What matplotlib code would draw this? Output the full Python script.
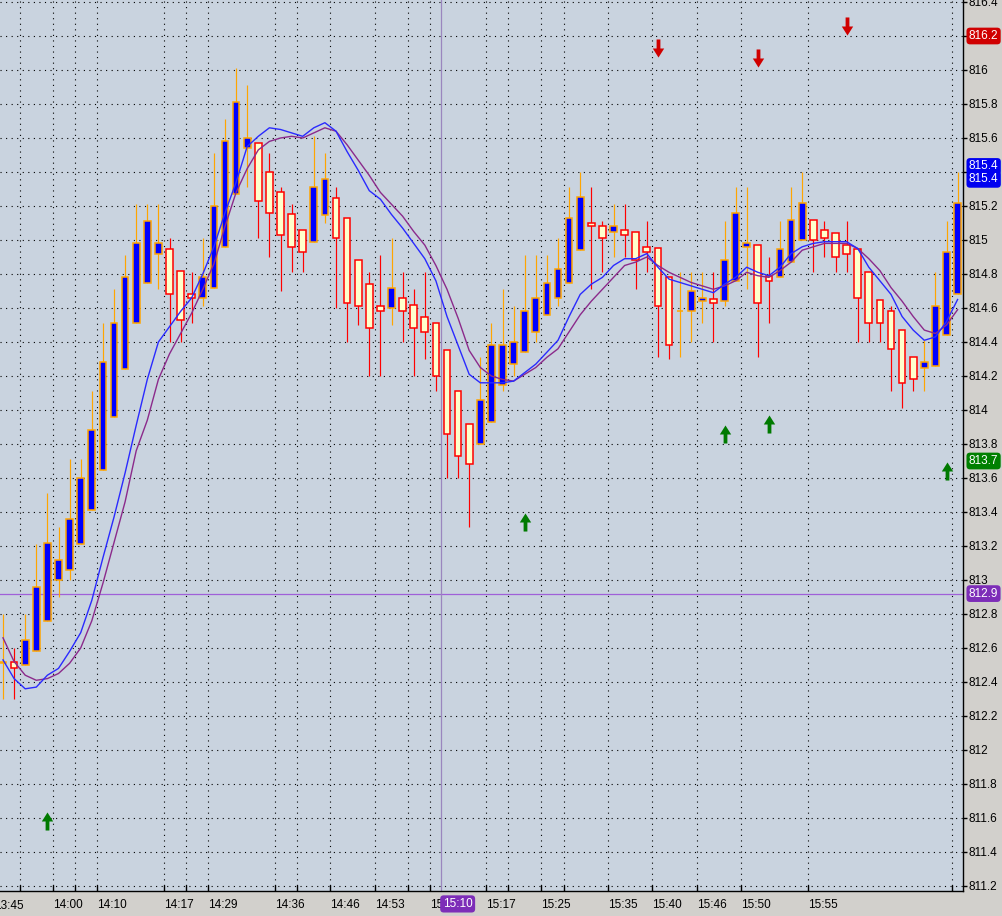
import matplotlib
matplotlib.use('Agg')
import matplotlib.pyplot as plt
import numpy as np
from matplotlib.path import Path
from matplotlib.transforms import blended_transform_factory

# ---------------- data ----------------
opens = [812.51, 812.52, 812.50, 812.58, 812.76, 813.00, 813.06, 813.21, 813.41, 813.65,
         813.96, 814.24, 814.51, 814.75, 814.92, 814.95, 814.82, 814.68, 814.66, 814.72,
         814.96, 815.27, 815.54, 815.57, 815.40, 815.28, 815.15, 815.06, 814.99, 815.15,
         815.25, 815.13, 814.88, 814.74, 814.61, 814.60, 814.66, 814.62, 814.55, 814.51,
         814.35, 814.11, 813.92, 813.80, 813.93, 814.15, 814.27, 814.34, 814.46, 814.56,
         814.66, 814.75, 814.94, 815.10, 815.08, 815.05, 815.06, 815.05, 814.96, 814.95,
         814.78, 814.58, 814.58, 814.64, 814.65, 814.64, 814.76, 814.96, 814.97, 814.79,
         814.78, 814.87, 815.00, 815.12, 815.06, 815.04, 814.97, 814.95, 814.81, 814.65,
         814.58, 814.47, 814.31, 814.25, 814.26, 814.44, 814.68]
highs = [812.80, 812.60, 812.80, 813.21, 813.51, 813.31, 813.71, 813.71, 814.11, 814.51,
         814.71, 814.91, 815.21, 815.21, 815.21, 815.01, 814.82, 814.81, 815.01, 815.51,
         815.71, 816.01, 815.91, 815.57, 815.51, 815.31, 815.21, 815.06, 815.61, 815.51,
         815.31, 815.13, 814.88, 814.81, 814.91, 815.01, 814.81, 814.71, 814.81, 814.51,
         814.35, 814.11, 813.92, 814.31, 814.51, 814.71, 814.61, 814.91, 814.91, 814.91,
         815.01, 815.31, 815.40, 815.31, 815.11, 815.21, 815.21, 815.05, 815.11, 814.95,
         814.78, 814.81, 814.81, 814.81, 814.81, 815.11, 815.31, 815.31, 814.97, 814.90,
         815.11, 815.31, 815.40, 815.12, 815.11, 815.04, 815.11, 814.95, 814.81, 814.65,
         814.61, 814.47, 814.31, 814.41, 814.81, 815.11, 815.40]
lows = [812.30, 812.30, 812.50, 812.58, 812.76, 812.90, 813.00, 813.21, 813.41, 813.65,
        813.96, 814.24, 814.51, 814.75, 814.71, 814.40, 814.40, 814.51, 814.61, 814.72,
        814.96, 815.27, 815.31, 815.01, 814.90, 814.70, 814.81, 814.81, 814.99, 815.10,
        814.60, 814.40, 814.50, 814.20, 814.20, 814.50, 814.40, 814.20, 814.30, 814.11,
        813.60, 813.60, 813.31, 813.80, 813.93, 814.11, 814.20, 814.34, 814.40, 814.56,
        814.61, 814.75, 814.94, 814.71, 814.81, 814.90, 814.90, 814.71, 814.81, 814.31,
        814.30, 814.31, 814.40, 814.51, 814.40, 814.61, 814.76, 814.71, 814.31, 814.51,
        814.78, 814.87, 815.00, 814.81, 814.90, 814.81, 814.81, 814.40, 814.40, 814.40,
        814.11, 814.01, 814.11, 814.11, 814.26, 814.44, 814.68]
closes = [812.52, 812.48, 812.65, 812.96, 813.22, 813.12, 813.36, 813.60, 813.88, 814.28,
          814.51, 814.78, 814.98, 815.11, 814.98, 814.68, 814.53, 814.66, 814.78, 815.20,
          815.58, 815.81, 815.60, 815.23, 815.16, 815.03, 814.96, 814.93, 815.31, 815.36,
          815.01, 814.63, 814.61, 814.48, 814.58, 814.72, 814.58, 814.48, 814.46, 814.20,
          813.86, 813.73, 813.68, 814.06, 814.38, 814.38, 814.40, 814.58, 814.66, 814.75,
          814.83, 815.13, 815.25, 815.08, 815.01, 815.08, 815.03, 814.88, 814.93, 814.61,
          814.38, 814.58, 814.70, 814.66, 814.63, 814.88, 815.16, 814.98, 814.63, 814.76,
          814.95, 815.12, 815.22, 815.00, 815.01, 814.90, 814.92, 814.66, 814.51, 814.51,
          814.36, 814.16, 814.18, 814.28, 814.61, 814.93, 815.22]

ma_fast = [812.53, 812.42, 812.36, 812.37, 812.44, 812.48, 812.58, 812.69, 812.88, 813.13,
           813.37, 813.63, 813.91, 814.18, 814.40, 814.49, 814.58, 814.66, 814.80, 814.96,
           815.16, 815.34, 815.55, 815.61, 815.66, 815.65, 815.63, 815.61, 815.66, 815.69,
           815.64, 815.52, 815.41, 815.29, 815.24, 815.15, 815.07, 814.98, 814.89, 814.76,
           814.55, 814.38, 814.21, 814.16, 814.16, 814.16, 814.17, 814.22, 814.27, 814.34,
           814.41, 814.55, 814.68, 814.74, 814.78, 814.85, 814.89, 814.89, 814.92, 814.84,
           814.77, 814.75, 814.73, 814.71, 814.69, 814.74, 814.78, 814.84, 814.81, 814.79,
           814.84, 814.92, 814.96, 814.98, 814.99, 814.99, 814.99, 814.95, 814.84, 814.76,
           814.68, 814.55, 814.47, 814.41, 814.43, 814.52, 814.65]
ma_slow = [812.66, 812.52, 812.44, 812.41, 812.42, 812.45, 812.51, 812.60, 812.76, 812.98,
           813.22, 813.46, 813.76, 813.94, 814.18, 814.33, 814.45, 814.57, 814.71, 814.86,
           815.08, 815.28, 815.42, 815.53, 815.58, 815.60, 815.61, 815.60, 815.63, 815.66,
           815.64, 815.56, 815.47, 815.38, 815.28, 815.21, 815.14, 815.05, 814.97, 814.85,
           814.71, 814.54, 814.35, 814.25, 814.20, 814.18, 814.17, 814.21, 814.25, 814.31,
           814.36, 814.46, 814.56, 814.64, 814.71, 814.78, 814.85, 814.87, 814.90, 814.85,
           814.81, 814.78, 814.75, 814.73, 814.71, 814.73, 814.76, 814.81, 814.79, 814.78,
           814.82, 814.87, 814.94, 814.96, 814.98, 814.98, 814.98, 814.95, 814.89, 814.82,
           814.72, 814.64, 814.55, 814.47, 814.45, 814.50, 814.59]

time_tick_pos = [1.5, 4.5, 6.5, 8.5, 14.5, 16.5, 18.5, 24.5, 26.5, 29.5, 33.5, 36.5, 38.5,
                 43.5, 45.5, 48.5, 50.5, 54.5, 58.5, 62.5, 66.5, 72.5, 85.5]
time_tick_labels = ['', '14:00', '', '14:10', '14:17', '', '14:29', '14:36', '', '14:46',
                    '14:53', '', '15', '15:17', '', '15:25', '', '15:35', '15:40',
                    '15:46', '15:50', '15:55', '']
first_time_label = '13:45'
first_time_pos = -0.78
cursor_pos = 39.5
cursor_label = '15:10'

sell_bars = [59, 68, 76]
sell_prices = [816.13, 816.07, 816.26]
buy_bars = [4, 47, 65, 69, 85]
buy_prices = [811.58, 813.34, 813.86, 813.92, 813.64]

hline_price = 812.92
price_labels = ['816.2', '815.4', '815.4', '813.7', '812.9']
price_label_values = [816.2, 815.4, 815.4, 813.7, 812.92]
price_label_colors = ['#D00000', '#0000F0', '#0000F0', '#008000', '#7D2DB8']
price_label_dy = [0, 4.0, -5.3, 0, 0]
hidden_tick_values = [816.2, 815.4]

# ---------------- figure ----------------
W, H = 1003, 916
plt.rcParams['font.family'] = ['Liberation Sans', 'DejaVu Sans']
fig = plt.figure(figsize=(W / 100, H / 100), dpi=100, facecolor='#D2D0CC')
ax = fig.add_axes([0, 25 / H, 963 / W, 891 / H])
ax.set_facecolor('#C9D3DF')

n = len(opens)
idx = np.arange(n)
o = np.array(opens); h = np.array(highs); l = np.array(lows); c = np.array(closes)
up = c >= o

wick_cols = np.where(up, '#FFA500', '#FF0000')
ax.vlines(idx, l, h, colors=wick_cols, linewidth=0.85, zorder=2)
ax.bar(idx[up], (c - o)[up], bottom=o[up], width=0.6, color='#0000FF',
       edgecolor='#FFA500', linewidth=1.1, zorder=3)
ax.bar(idx[~up], (o - c)[~up], bottom=c[~up], width=0.6, color='#FFFFCC',
       edgecolor='#FF0000', linewidth=1.1, zorder=3)

ax.plot(idx, ma_slow, color='#8B2A8B', linewidth=1.0, zorder=4)
ax.plot(idx, ma_fast, color='#2A2AFF', linewidth=1.0, zorder=4)

ax.axhline(hline_price, color='#A060D8', linewidth=0.9, zorder=1.8)
ax.axvline(cursor_pos, color='#9A86BE', linewidth=0.9, zorder=1.8)

# arrows
down_verts = [(-0.21, 1), (0.21, 1), (0.21, 0.0), (0.63, 0.0), (0, -1),
              (-0.63, 0.0), (-0.21, 0.0), (-0.21, 1)]
down_path = Path(down_verts, closed=True)
up_path = Path([(x, -y) for x, y in down_verts], closed=True)
ax.scatter(sell_bars, sell_prices, marker=down_path, s=13 ** 2, color='#D00000',
           linewidths=0, zorder=5)
ax.scatter(buy_bars, buy_prices, marker=up_path, s=13 ** 2, color='#007A00',
           linewidths=0, zorder=5)

# axes limits
ax.set_xlim(-3 / 11.1, 960 / 11.1)
ax.set_ylim(815 - 651 / 170, 815 + 240 / 170)

# y ticks
yt = np.round(np.arange(811.2, 816.41, 0.2), 1)
ax.yaxis.tick_right()
ax.set_yticks(yt)
ax.set_yticklabels(['' if v in hidden_tick_values else f'{v:g}' for v in yt], fontsize=8.5)
ax.tick_params(axis='y', direction='out', length=3, width=1, pad=1, colors='black')

# x ticks
ax.set_xticks(time_tick_pos)
ax.set_xticklabels(time_tick_labels, fontsize=8.5, ha='left')
ax.tick_params(axis='x', direction='in', length=4.5, width=1, pad=6)

ax.grid(True, color='black', linestyle=(0, (1, 4)), linewidth=0.8)
ax.set_axisbelow(True)

for s in ['left', 'top']:
    ax.spines[s].set_visible(False)
for s in ['right', 'bottom']:
    ax.spines[s].set_color('black')
    ax.spines[s].set_linewidth(1.0)

bx = blended_transform_factory(ax.transData, ax.transAxes)
ax.text(first_time_pos, -0.0165, first_time_label, transform=bx, fontsize=8.5,
        ha='left', va='center', clip_on=False)
ax.text(cursor_pos + 0.12, -0.0145, cursor_label, transform=bx, fontsize=8.5,
        ha='left', va='center', color='white', clip_on=False, zorder=10,
        bbox=dict(boxstyle='round,pad=0.22,rounding_size=0.3', fc='#7D2DB8', ec='none'))

by = blended_transform_factory(ax.transAxes, ax.transData)
for txt, val, col, dy in zip(price_labels, price_label_values, price_label_colors, price_label_dy):
    ax.annotate(txt, xy=(1.0, val), xycoords=by, xytext=(4.2, dy), textcoords='offset points',
                fontsize=8.5, color='white', ha='left', va='center', annotation_clip=False,
                zorder=10,
                bbox=dict(boxstyle='round,pad=0.2,rounding_size=0.3', fc=col, ec='none'))

fig.savefig('out.png', dpi=100, facecolor=fig.get_facecolor())
